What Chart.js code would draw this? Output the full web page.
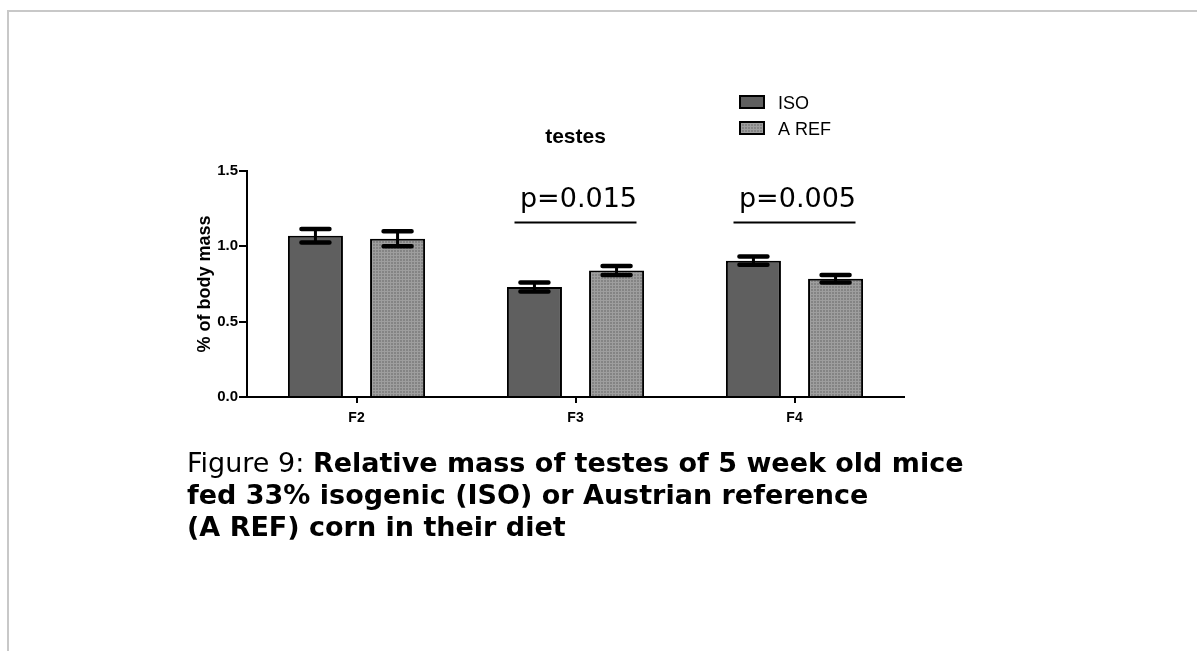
<!DOCTYPE html>
<html>
<head>
<meta charset="utf-8">
<script src="https://cdn.jsdelivr.net/npm/chart.js@4.4.1/dist/chart.umd.min.js"></script>
<style>
  body { margin: 0; background: #fff; width: 1197px; height: 651px; overflow: hidden; position: relative; }
  #frame { position: absolute; left: 7px; top: 10px; width: 1300px; height: 800px;
           border-top: 2px solid #c8c8c8; border-left: 2px solid #c8c8c8; }
  #myChart { position: absolute; left: 0; top: 0; }
  #caption { position: absolute; left: 187px; top: 447px; font-family: "DejaVu Sans", Verdana, sans-serif;
             font-size: 27px; line-height: 32px; color: #000; white-space: nowrap; }
  #caption b { font-weight: bold; }
</style>
</head>
<body>
<div id="frame"></div>
<canvas id="myChart" width="1197" height="651"></canvas>
<div id="caption">Figure 9: <b>Relative mass of testes of 5 week old mice<br>fed 33% isogenic (ISO) or Austrian reference<br>(A REF) corn in their diet</b></div>
<script>
// data
var generations = ['F2', 'F3', 'F4'];
var isoMean = [1.07, 0.73, 0.905];
var isoSem = [0.045, 0.03, 0.027];
var arefMean = [1.05, 0.84, 0.785];
var arefSem = [0.05, 0.03, 0.025];
var pValues = ['', 'p=0.015', 'p=0.005'];
var seriesNames = ['ISO', 'A REF'];
var yMin = 0, yMax = 1.5, yStep = 0.5;

// stippled grey fill for A REF
var pc = document.createElement('canvas');
pc.width = 3; pc.height = 3;
var pctx = pc.getContext('2d');
pctx.fillStyle = '#848484';
pctx.fillRect(0, 0, 3, 3);
pctx.fillStyle = '#9e9e9e';
pctx.fillRect(0, 0, 3, 1);
pctx.fillRect(0, 0, 1, 3);
var ctx = document.getElementById('myChart').getContext('2d');
var stipple = ctx.createPattern(pc, 'repeat');
var isoColor = '#5f5f5f';

var sems = [isoSem, arefSem];

var extras = {
  id: 'extras',
  afterDatasetsDraw: function (chart) {
    var c = chart.ctx;
    var y = chart.scales.y;
    c.save();
    c.strokeStyle = '#000';
    chart.data.datasets.forEach(function (ds, di) {
      chart.getDatasetMeta(di).data.forEach(function (bar, i) {
        var hi = y.getPixelForValue(ds.data[i] + sems[di][i]);
        var lo = y.getPixelForValue(ds.data[i] - sems[di][i]);
        c.lineWidth = 3;
        c.lineCap = 'butt';
        c.beginPath();
        c.moveTo(bar.x, hi);
        c.lineTo(bar.x, lo);
        c.stroke();
        c.lineWidth = 4.5;
        c.lineCap = 'round';
        c.beginPath();
        c.moveTo(bar.x - 14, hi); c.lineTo(bar.x + 14, hi);
        c.moveTo(bar.x - 14, lo); c.lineTo(bar.x + 14, lo);
        c.stroke();
      });
    });
    c.restore();
  },
  afterDraw: function (chart) {
    var c = chart.ctx;
    var x = chart.scales.x;
    c.save();
    c.fillStyle = '#000';
    c.textAlign = 'center';
    c.textBaseline = 'alphabetic';
    // chart title
    c.font = 'bold 21px "Liberation Sans", Arial, sans-serif';
    c.fillText('testes', x.getPixelForValue(1), 143);
    // p values with bars
    c.font = '27px "DejaVu Sans", Verdana, sans-serif';
    c.strokeStyle = '#000';
    c.lineWidth = 2;
    pValues.forEach(function (p, i) {
      if (!p) return;
      var cx = x.getPixelForValue(i);
      c.fillText(p, cx + 3, 207);
      c.beginPath();
      c.moveTo(cx - 61, 222.5);
      c.lineTo(cx + 61, 222.5);
      c.stroke();
    });
    // legend
    var fills = [isoColor, stipple];
    c.textAlign = 'left';
    c.font = '18px "Liberation Sans", Arial, sans-serif';
    seriesNames.forEach(function (name, i) {
      var top = 95 + i * 26;
      c.fillStyle = fills[i];
      c.fillRect(740, top + 1, 24, 12);
      c.strokeStyle = '#000';
      c.lineWidth = 2;
      c.strokeRect(740, top + 1, 24, 12);
      c.fillStyle = '#000';
      c.fillText(name, 778, top + 14);
    });
    c.restore();
  }
};

var myChart = new Chart(ctx, {
  type: 'bar',
  data: {
    labels: generations,
    datasets: [{
      label: seriesNames[0],
      data: isoMean,
      backgroundColor: isoColor,
      borderColor: '#000',
      borderWidth: 2
    }, {
      label: seriesNames[1],
      data: arefMean,
      backgroundColor: stipple,
      borderColor: '#000',
      borderWidth: 2
    }]
  },
  options: {
    responsive: false,
    animation: false,
    events: [],
    layout: { padding: { left: 193, top: 171, right: 293, bottom: 224 } },
    categoryPercentage: 0.75,
    barPercentage: 0.67,
    plugins: { legend: { display: false }, title: { display: false }, tooltip: { enabled: false } },
    scales: {
      x: {
        afterFit: function (s) { s.height = 30; },
        grid: { offset: false, drawOnChartArea: false, drawTicks: true, tickLength: 6, color: '#000', lineWidth: 2 },
        border: { display: true, color: '#000', width: 2 },
        ticks: { color: '#000', padding: 7, font: { family: '"Liberation Sans", Arial, sans-serif', size: 14, weight: 'bold' } }
      },
      y: {
        min: yMin,
        max: yMax,
        afterFit: function (s) { s.width = 54; },
        grid: { drawOnChartArea: false, drawTicks: true, tickLength: 8, color: '#000', lineWidth: 2 },
        border: { display: true, color: '#000', width: 2 },
        ticks: {
          stepSize: yStep,
          color: '#000',
          padding: 1,
          font: { family: '"Liberation Sans", Arial, sans-serif', size: 15, weight: 'bold' },
          callback: function (v) { return v.toFixed(1); }
        },
        title: {
          display: true,
          text: '% of body mass',
          color: '#000',
          padding: { top: 1, bottom: 0 },
          font: { family: '"Liberation Sans", Arial, sans-serif', size: 18, weight: 'bold' }
        }
      }
    }
  },
  plugins: [extras]
});
</script>
</body>
</html>
